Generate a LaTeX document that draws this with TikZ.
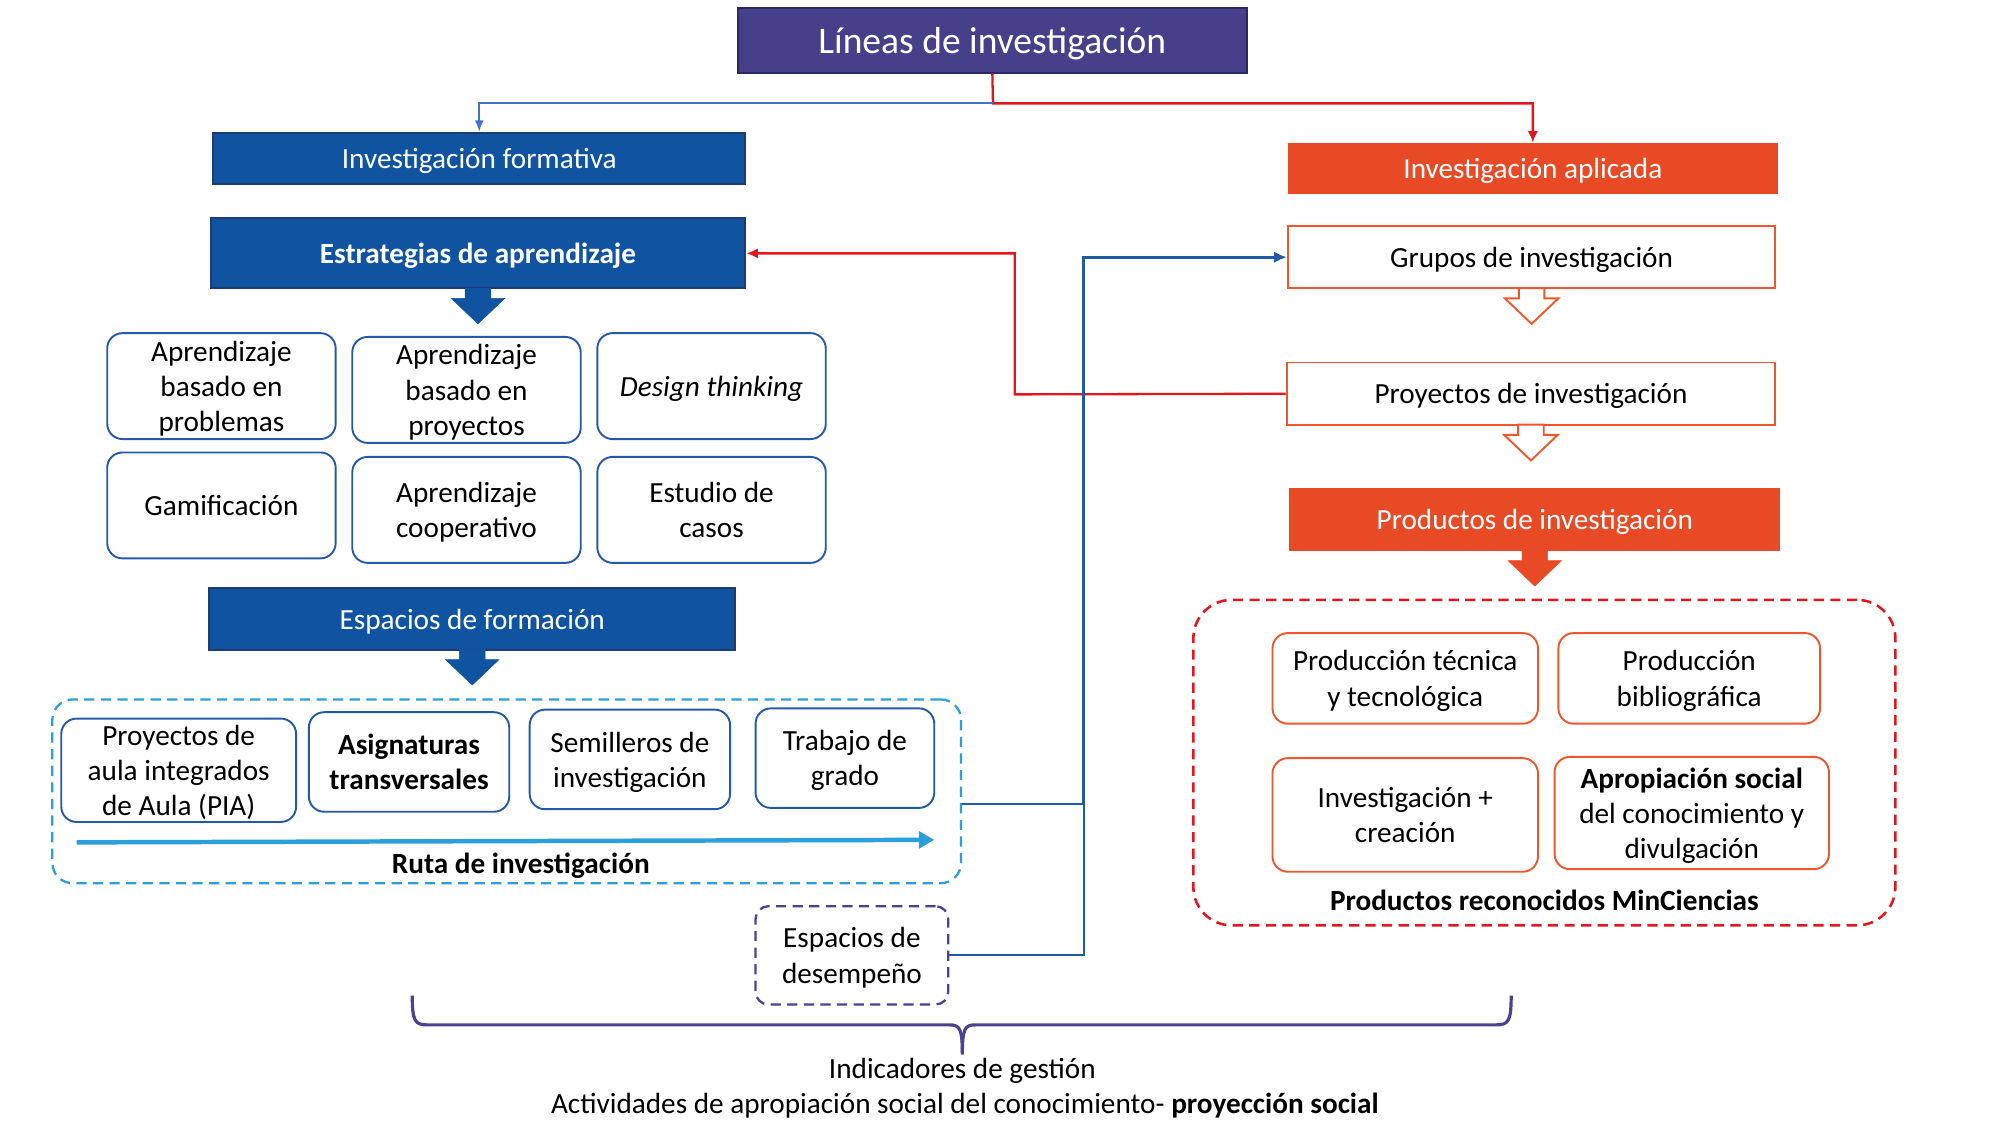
\documentclass[tikz,border=0pt]{standalone}
\usepackage{fontspec}
\setmainfont{Carlito}
\usetikzlibrary{arrows.meta}

\definecolor{titlefill}{HTML}{46408A}
\definecolor{titledraw}{HTML}{2C2860}
\definecolor{bluefill}{HTML}{1053A0}
\definecolor{bluedraw}{HTML}{1D3C70}
\definecolor{boxblue}{HTML}{2559A8}
\definecolor{orangefill}{HTML}{E84A26}
\definecolor{orangeline}{HTML}{F0562E}
\definecolor{redline}{HTML}{E3161E}
\definecolor{toplink}{HTML}{4472C4}
\definecolor{linkblue}{HTML}{1F5AA6}
\definecolor{lightblue}{HTML}{2A9FDB}
\definecolor{purpleline}{HTML}{4A4291}

\begin{document}
\begin{tikzpicture}[x=1pt, y=-1pt,
    every node/.style={font=\fontsize{22.9}{27.5}\selectfont, inner sep=0pt, align=center, text depth=0pt},
    titlebox/.style={draw=titledraw, line width=1.5, fill=titlefill, text=white, font=\fontsize{29.4}{34}\selectfont},
    bluebox/.style={draw=bluedraw, line width=1.5, fill=bluefill, text=white},
    orangebox/.style={fill=orangefill, text=white},
    lineframe/.style={draw=orangeline, line width=1.5, fill=white},
    stratbox/.style={draw=boxblue, line width=1.5, rounded corners=12, minimum width=179, minimum height=83},
    prodbox/.style={draw=orangeline, line width=1.5, rounded corners=12},
    boldtext/.style={font=\fontsize{22.9}{27.5}\selectfont\bfseries},
    pics/downarrow/.style={code={\filldraw[#1] (-10,-1) -- (10,-1) -- (10,7) -- (21,7) -- (0,27) -- (-21,7) -- (-10,7) -- cycle;}}
  ]
  \useasboundingbox (0,0) rectangle (1567,881.5);

  % Title
  \node[titlebox, minimum width=399, minimum height=51] (title) at (777.5,31.5) {Líneas de investigación};

  % Two branches
  \node[bluebox, minimum width=417, minimum height=40] (invform) at (375.5,124) {Investigación formativa};
  \node[orangebox, minimum width=384, minimum height=40] (invapl) at (1201,132) {Investigación aplicada};
  \coordinate (split) at (778,81);
  \draw[redline, line width=1.8, -{Latex[length=9,width=8]}] (title.south) -- (split) -| (invapl.north);
  \draw[toplink, line width=1.5, -{Latex[length=9,width=7]}] (split) -| (invform.north);

  % Left side: strategies
  \node[bluebox, boldtext, minimum width=419, minimum height=55] (estr) at (374.5,198.5) {Estrategias de aprendizaje};
  \pic at (estr.south) {downarrow={bluefill}};

  \node[stratbox] (abp) at (173.5,302.5) {Aprendizaje\\basado en\\problemas};
  \node[stratbox] (abpy) at (365.5,305.5) {Aprendizaje\\basado en\\proyectos};
  \node[stratbox] (design) at (557.5,302.5) {\itshape Design thinking};
  \node[stratbox] (gam) at (173.5,396) {Gamificación};
  \node[stratbox] (coop) at (365.5,399.5) {Aprendizaje\\cooperativo};
  \node[stratbox] (casos) at (557.5,399.5) {Estudio de\\casos};

  % Left side: spaces
  \node[bluebox, minimum width=412, minimum height=48] (espform) at (370,485) {Espacios de formación};
  \pic at (espform.south) {downarrow={bluefill}};

  \node[draw=lightblue, line width=1.8, dash pattern=on 8pt off 5pt, rounded corners=16, minimum width=712, minimum height=144] (rutabox) at (397,620) {};
  \node[stratbox, minimum width=184, minimum height=81] (pia) at (140,603.5) {Proyectos de\\aula integrados\\de Aula (PIA)};
  \node[stratbox, boldtext, minimum width=157, minimum height=78] (asig) at (320.5,597) {Asignaturas\\transversales};
  \node[stratbox, minimum width=157, minimum height=78] (semi) at (493.5,595) {Semilleros de\\investigación};
  \node[stratbox, minimum width=140, minimum height=78] (trab) at (662,594) {Trabajo de\\grado};
  \draw[lightblue, line width=3.5, -{Triangle[length=12,width=13]}] (60,660) -- (732,658);
  \node[boldtext] (ruta) at (408,676) {Ruta de investigación};

  \node[draw=purpleline, line width=1.8, dash pattern=on 8pt off 5pt, rounded corners=10, minimum width=151, minimum height=77] (desemp) at (667.5,748.5) {Espacios de\\desempeño};

  % Right side: applied research
  \node[lineframe, minimum width=382, minimum height=49] (grupos) at (1200,201.5) {Grupos de investigación};
  \pic at (grupos.south) {downarrow={draw=orangeline, fill=white, line width=1.5}};
  \node[lineframe, minimum width=383, minimum height=49] (proyinv) at (1199.5,308.5) {Proyectos de investigación};
  \pic at (proyinv.south) {downarrow={draw=orangeline, fill=white, line width=1.5}};
  \node[orangebox, minimum width=385, minimum height=50] (prodinv) at (1202.5,407) {Productos de investigación};
  \pic at (prodinv.south) {downarrow={orangefill}};

  \node[draw=redline, line width=2, dash pattern=on 8pt off 5pt, rounded corners=30, minimum width=550, minimum height=255] (prodbox) at (1210,597.5) {};
  \node[prodbox, minimum width=208, minimum height=71] (ptec) at (1101,531.5) {Producción técnica\\y tecnológica};
  \node[prodbox, minimum width=205, minimum height=71] (pbib) at (1323.5,531.5) {Producción\\bibliográfica};
  \node[prodbox, minimum width=208, minimum height=89] (icrea) at (1101,638.5) {Investigación +\\creación};
  \node[prodbox, minimum width=215, minimum height=88] (aps) at (1325.5,637) {\textbf{Apropiación social}\\del conocimiento y\\divulgación};
  \node[boldtext] (minc) at (1210,705) {Productos reconocidos MinCiencias};

  % Cross links
  \coordinate (rbend) at (795,309);
  \draw[redline, line width=1.8, -{Latex[length=9,width=8]}] (proyinv.west) -- (rbend) |- (estr.east);
  \coordinate (bjoin) at (849,630);
  \draw[linkblue, line width=1.5] (rutabox.east |- bjoin) -- (bjoin);
  \draw[linkblue, line width=1.5] (desemp.east) -| (bjoin);
  \draw[linkblue, line width=2.5, -{Latex[length=10,width=9]}] (bjoin) |- (grupos.west);

  % Brace and management indicators
  \coordinate (btip) at (754,826);
  \draw[purpleline, line width=2.5] (323,780) .. controls (323,800) and (325,803) .. (335,803) -- (744,803) .. controls (752,803) and (754,806) .. (btip);
  \draw[purpleline, line width=2.5] (1184,780) .. controls (1184,800) and (1182,803) .. (1172,803) -- (764,803) .. controls (756,803) and (754,806) .. (btip);
  \node (indic) at (754,837) {Indicadores de gestión};
  \node (activ) at (756,864) {Actividades de apropiación social del conocimiento- \textbf{proyección social}};
\end{tikzpicture}
\end{document}
